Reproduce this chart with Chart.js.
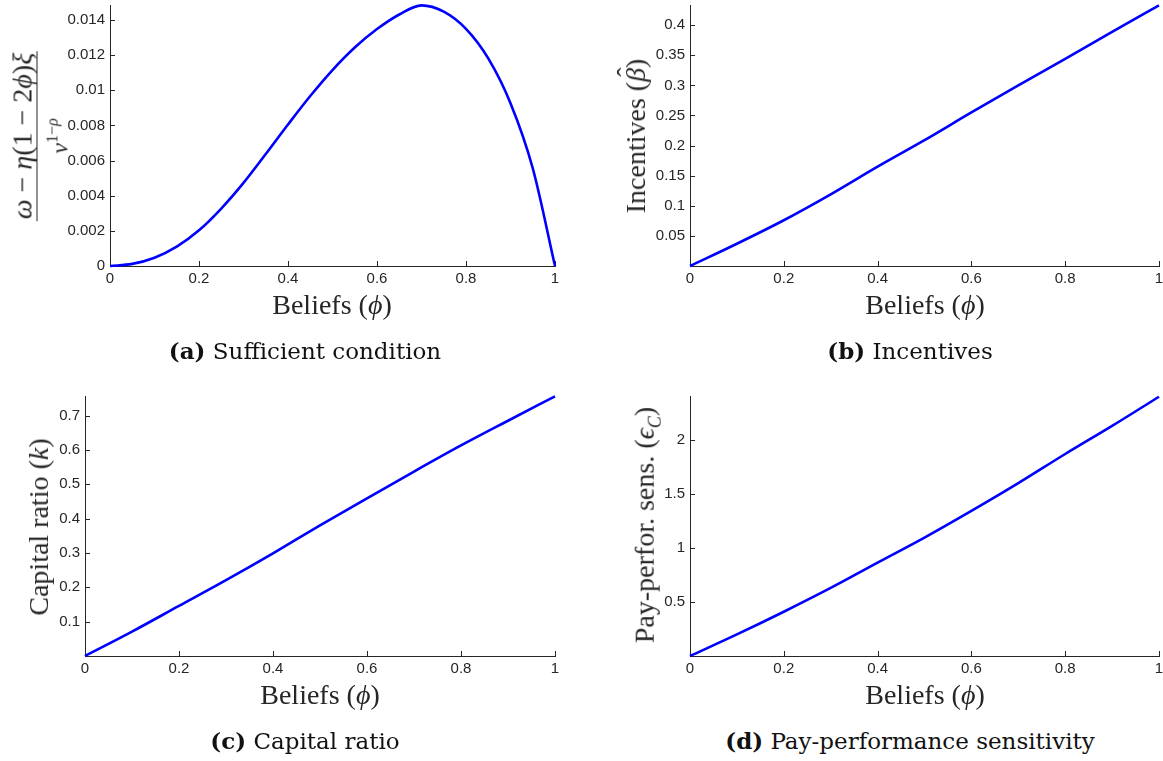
<!DOCTYPE html>
<html><head><meta charset="utf-8">
<script src="https://cdn.jsdelivr.net/npm/chart.js@4.4.1/dist/chart.umd.min.js"></script>
<style>
html,body{margin:0;padding:0;background:#fff;}
#wrap{position:relative;width:1163px;height:761px;overflow:hidden;background:#fff;}
canvas{position:absolute;}
.t{position:absolute;white-space:nowrap;font-family:"Liberation Serif",serif;color:#262626;font-size:28px;line-height:1;}
.rot{transform:translate(-50%,-50%) rotate(-90deg);}
.ctr{transform:translate(-50%,-50%);}
.cap{position:absolute;white-space:nowrap;font-family:"DejaVu Serif",serif;font-size:23px;color:#111;line-height:1;transform:translate(-50%,-50%);}
.frac{display:inline-block;text-align:center;}
.num{font-size:28px;line-height:29px;border-bottom:1.3px solid #262626;padding:0 2px;}
.den{font-size:24px;line-height:30px;}
.den sup{font-size:16px;vertical-align:10px;}
.hat{position:relative;display:inline-block;}
.hat .h{position:absolute;left:5px;top:-9px;font-style:normal;}
</style></head><body>
<div id="wrap">
<canvas id="cA" width="580" height="330" style="left:0;top:0"></canvas>
<canvas id="cB" width="583" height="330" style="left:580px;top:0"></canvas>
<canvas id="cC" width="580" height="330" style="left:0;top:380px"></canvas>
<canvas id="cD" width="583" height="330" style="left:580px;top:380px"></canvas>

<div class="t rot" style="left:41px;top:136px"><div class="frac"><div class="num"><i>ω</i> − <i>η</i>(1 − 2<i>ϕ</i>)<i>ξ</i></div><div class="den"><i>v</i><sup>1−<i>ρ</i></sup></div></div></div>
<div class="t rot" style="left:636px;top:136px">Incentives (<span class="hat"><i>β</i><span class="h">ˆ</span></span>)</div>
<div class="t rot" style="left:39px;top:527px">Capital ratio (<i>k</i>)</div>
<div class="t rot" style="left:647px;top:525px">Pay-perfor. sens. (<i>ϵ<sub style="font-size:18px">C</sub></i>)</div>

<div class="t ctr" style="left:332px;top:305px">Beliefs (<i>ϕ</i>)</div>
<div class="t ctr" style="left:925px;top:305px">Beliefs (<i>ϕ</i>)</div>
<div class="t ctr" style="left:320px;top:695px">Beliefs (<i>ϕ</i>)</div>
<div class="t ctr" style="left:925px;top:695px">Beliefs (<i>ϕ</i>)</div>

<div class="cap" style="left:305px;top:351px"><b>(a)</b> Sufficient condition</div>
<div class="cap" style="left:910px;top:351px"><b>(b)</b> Incentives</div>
<div class="cap" style="left:305px;top:741px"><b>(c)</b> Capital ratio</div>
<div class="cap" style="left:910px;top:741px"><b>(d)</b> Pay-performance sensitivity</div>
</div>
<script>
// ---- data ----
const phiA = [0,0.05,0.1,0.15,0.2,0.25,0.3,0.35,0.4,0.45,0.5,0.55,0.6,0.65,0.7,0.75,0.8,0.85,0.9,0.95,1];
const sufficientCond = [0,0.00012,0.00047,0.00110,0.00203,0.00327,0.00473,0.00637,0.00805,0.00967,0.01115,0.01243,0.01348,0.01431,0.01483,0.01447,0.01349,0.01181,0.00926,0.00556,0];
const phi = [0,0.1,0.2,0.3,0.4,0.5,0.6,0.7,0.8,0.9,1];
const incentives = [0,0.037,0.076,0.119,0.165,0.209,0.255,0.300,0.344,0.389,0.433];
const capitalRatio = [0,0.071,0.146,0.221,0.299,0.380,0.459,0.537,0.613,0.685,0.756];
const payPerfSens = [0,0.20,0.41,0.63,0.864,1.096,1.343,1.60,1.87,2.13,2.40];
const xTicks = [0,0.2,0.4,0.6,0.8,1];
const yTicksA = [0,0.002,0.004,0.006,0.008,0.01,0.012,0.014];
const yTicksB = [0.05,0.1,0.15,0.2,0.25,0.3,0.35,0.4];
const yTicksC = [0.1,0.2,0.3,0.4,0.5,0.6,0.7];
const yTicksD = [0.5,1,1.5,2];

const AX = '#262626';
const inwardTicks = {
  id:'inwardTicks',
  beforeDatasetsDraw(chart){
    const {ctx, chartArea:a, scales:{x,y}} = chart;
    ctx.save(); ctx.strokeStyle=AX; ctx.lineWidth=1; ctx.beginPath();
    x.ticks.forEach(t=>{const px=Math.round(x.getPixelForValue(t.value))+0.5; ctx.moveTo(px,a.bottom); ctx.lineTo(px,a.bottom-5);});
    y.ticks.forEach(t=>{const py=Math.round(y.getPixelForValue(t.value))+0.5; ctx.moveTo(a.left,py); ctx.lineTo(a.left+5,py);});
    ctx.stroke(); ctx.restore();
  }
};
function fmt(v){ return String(parseFloat(Number(v).toPrecision(6))); }
function zeroPad(s){ s.paddingTop=0; s.paddingBottom=0; s.paddingLeft=0; s.paddingRight=0; }

function makeChart(id, xs, ys, o){
  return new Chart(document.getElementById(id), {
    type:'line',
    data:{ datasets:[{ data: xs.map((x,i)=>({x, y: ys[i]})), borderColor:'#0000ff', borderWidth:2.6,
      pointRadius:0, fill:false, cubicInterpolationMode:'monotone', clip:false }] },
    options:{
      responsive:false, animation:false, events:[],
      layout:{ padding:{ top:o.padTop, right:o.padRight, left:0, bottom:0 } },
      plugins:{ legend:{display:false}, tooltip:{enabled:false} },
      scales:{
        x:{ type:'linear', min:0, max:1,
          afterBuildTicks(s){ s.ticks = xTicks.map(v=>({value:v})); },
          afterFit(s){ s.height = o.xHeight; zeroPad(s); },
          grid:{ display:true, drawOnChartArea:false, drawTicks:false },
          border:{ display:true, color:AX, width:1 },
          ticks:{ padding:4, color:AX, font:{family:'"Liberation Sans", Arial, sans-serif', size:15}, callback:fmt, maxRotation:0, autoSkip:false }
        },
        y:{ type:'linear', min:0, max:o.yMax,
          afterBuildTicks(s){ s.ticks = o.yTicks.map(v=>({value:v})); },
          afterFit(s){ s.width = o.yWidth; zeroPad(s); },
          grid:{ display:true, drawOnChartArea:false, drawTicks:false },
          border:{ display:true, color:AX, width:1 },
          ticks:{ padding:5, color:AX, font:{family:'"Liberation Sans", Arial, sans-serif', size:15}, callback:fmt, autoSkip:false }
        }
      }
    },
    plugins:[inwardTicks]
  });
}

makeChart('cA', phiA, sufficientCond, {yMax:0.01485, yTicks:yTicksA, yWidth:110, xHeight:64, padTop:5, padRight:25});
makeChart('cB', phi, incentives, {yMax:0.4335, yTicks:yTicksB, yWidth:110, xHeight:64, padTop:5, padRight:4});
makeChart('cC', phi, capitalRatio, {yMax:0.757, yTicks:yTicksC, yWidth:85, xHeight:54, padTop:16, padRight:25});
makeChart('cD', phi, payPerfSens, {yMax:2.407, yTicks:yTicksD, yWidth:110, xHeight:54, padTop:16, padRight:4});
</script>
</body></html>
